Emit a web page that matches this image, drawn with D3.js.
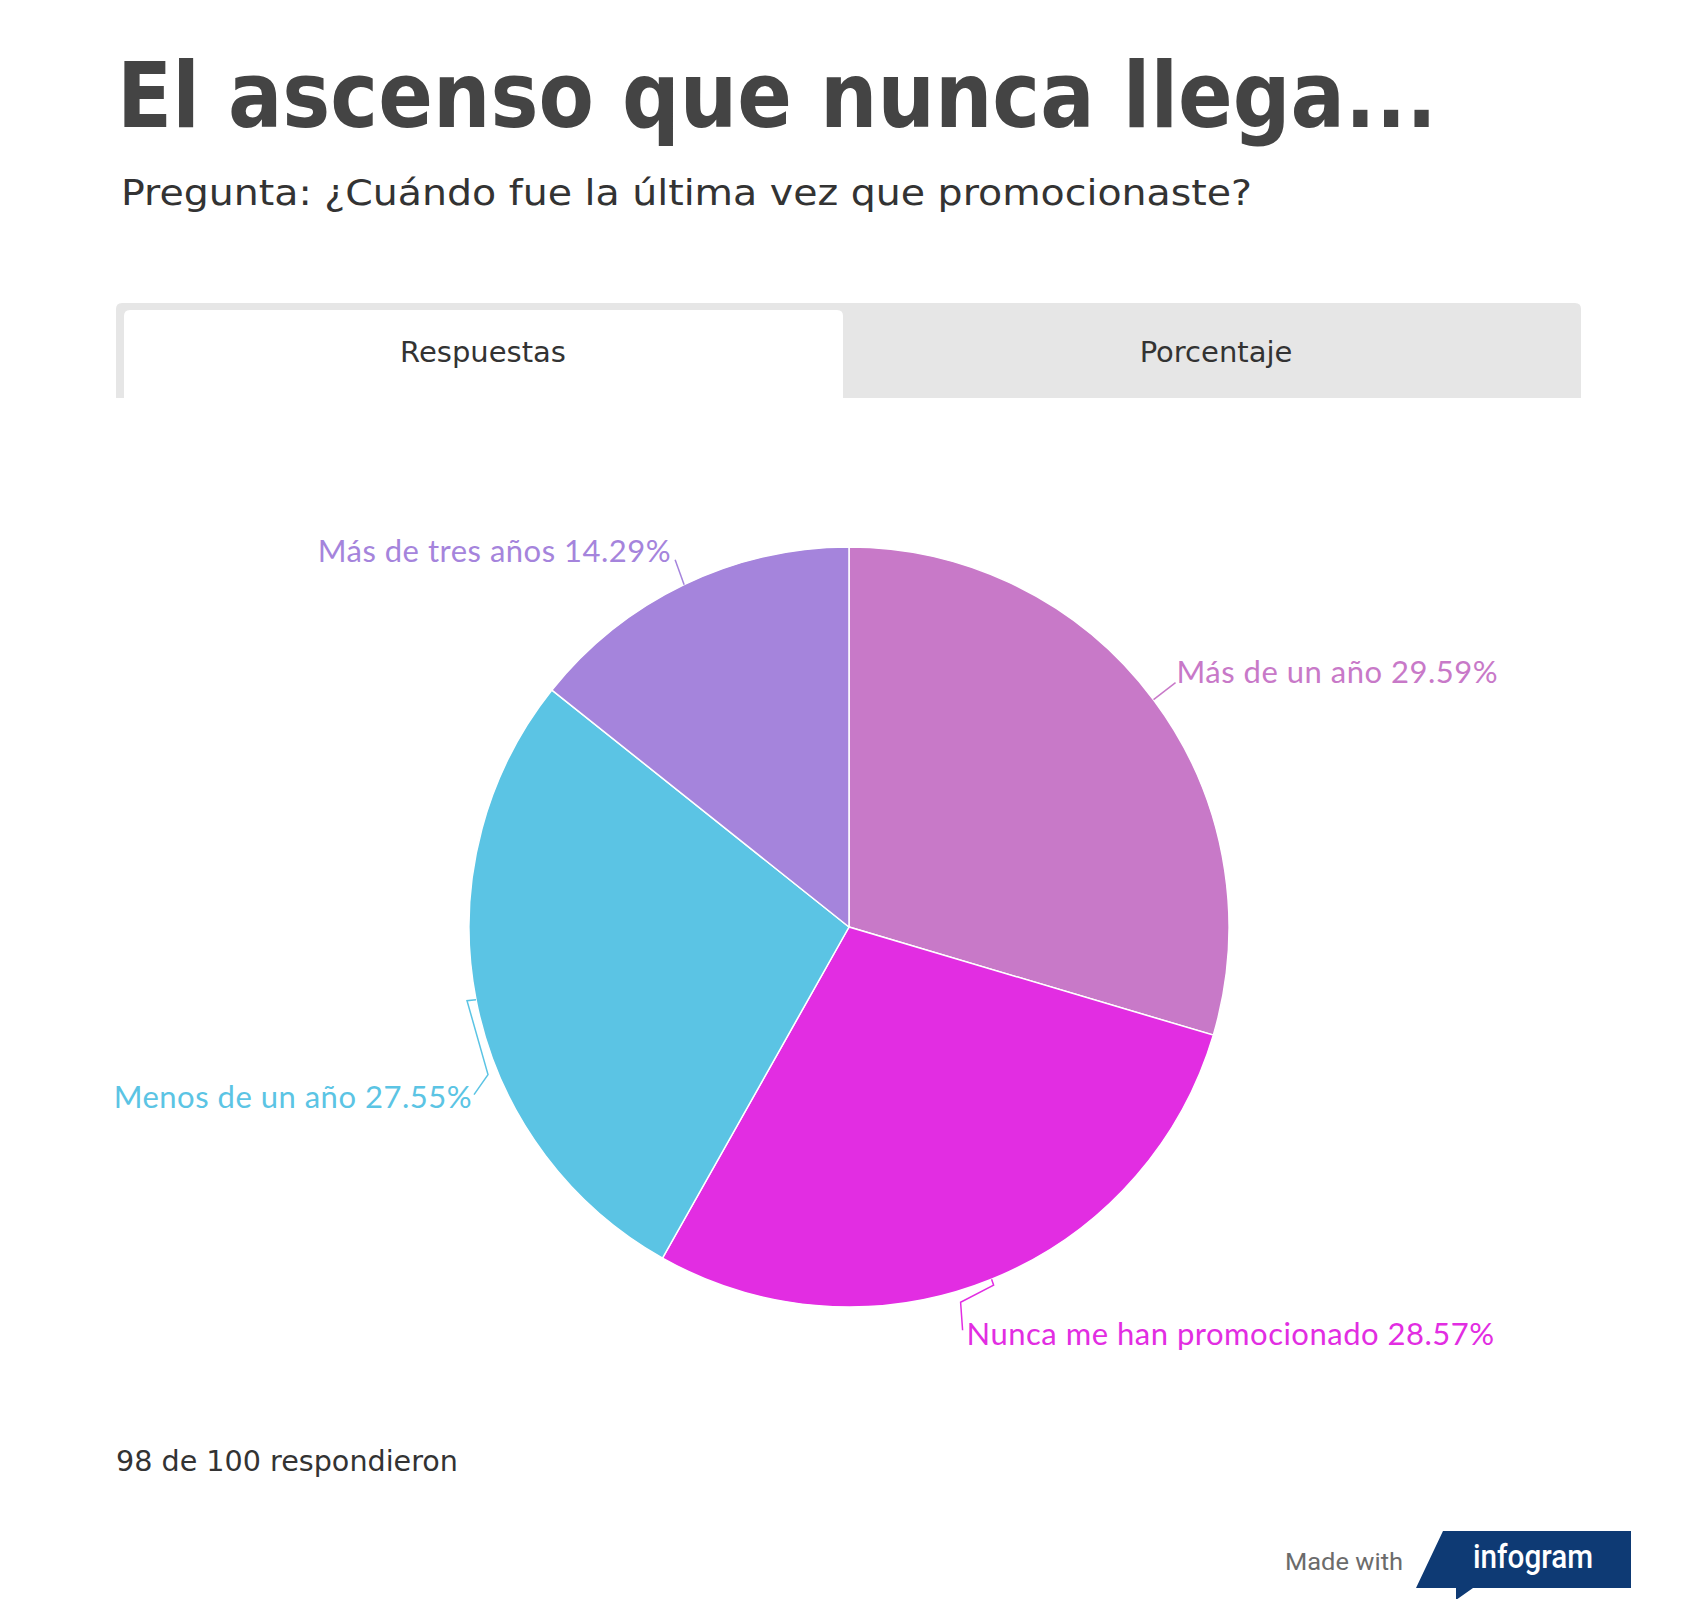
<!DOCTYPE html>
<html>
<head>
<meta charset="utf-8">
<title>El ascenso que nunca llega...</title>
<script src="https://d3js.org/d3.v7.min.js"></script>
<style>
  body { margin: 0; background: #fff; }
  .title { font-family: "DejaVu Sans", sans-serif; font-weight: bold; fill: #444; }
  .sub, .tab, .foot { font-family: "DejaVu Sans", sans-serif; fill: #333; }
  .lbl { font-family: Lato, "Noto Sans", sans-serif; letter-spacing: 0.5px; }
  .leader { fill: none; stroke-width: 1.5px; }
</style>
</head>
<body>
<svg id="chart"></svg>
<script>
// answers, clockwise from 12 o'clock
var categories = ["Más de un año", "Nunca me han promocionado", "Menos de un año", "Más de tres años"];
var counts = [29, 28, 27, 14];
var colors = ["#c879c8", "#e22de2", "#5bc4e4", "#a584dc"];
var answered = 98, asked = 100;
var tabs = ["Respuestas", "Porcentaje"];

// label layout: leader bends relative to slice edge point, text offset
var leaderBends = [
  [[22, -17]],
  [[2, 6], [-31, 23], [-29, 51]],
  [[-9, 1], [12, 75], [-2, 95]],
  [[-9, -25]]
];
var textOff = [[23, -17, "start"], [-25, 66, "start"], [-4, 108, "end"], [-13, -23, "end"]];

var W = 1700, H = 1599;
var svg = d3.select("#chart").attr("width", W).attr("height", H);
svg.append("rect").attr("width", W).attr("height", H).attr("fill", "#fff");

// titles
svg.append("text").attr("class", "title").attr("x", 117).attr("y", 127)
  .attr("font-size", 90).attr("textLength", 1320).attr("lengthAdjust", "spacingAndGlyphs")
  .text("El ascenso que nunca llega...");
svg.append("text").attr("class", "sub").attr("x", 121).attr("y", 205)
  .attr("font-size", 35).attr("textLength", 1131).attr("lengthAdjust", "spacingAndGlyphs")
  .text("Pregunta: ¿Cuándo fue la última vez que promocionaste?");

// tabs
svg.append("path").attr("fill", "#e6e6e6")
  .attr("d", "M116,398 V309 Q116,303 122,303 H1575 Q1581,303 1581,309 V398 Z");
svg.append("path").attr("fill", "#fff")
  .attr("d", "M124,398 V316 Q124,310 130,310 H837 Q843,310 843,316 V398 Z");
var tabX = d3.scalePoint().domain(tabs).range([483, 1216]);
svg.selectAll(".tab").data(tabs).enter().append("text").attr("class", "tab")
  .attr("x", function(d) { return tabX(d); }).attr("y", 362)
  .attr("text-anchor", "middle").attr("font-size", 29)
  .text(function(d) { return d; });

// pie
var cx = 849, cy = 927, R = 380;
var pie = d3.pie().sort(null).value(function(d) { return d; });
var arc = d3.arc().innerRadius(0).outerRadius(R);
var arcs = pie(counts);
var g = svg.append("g").attr("transform", "translate(" + cx + "," + cy + ")");
g.selectAll("path.slice").data(arcs).enter().append("path").attr("class", "slice")
  .attr("d", arc)
  .attr("fill", function(d, i) { return colors[i]; })
  .attr("stroke", "#fff").attr("stroke-width", 1.5);

// labels
arcs.forEach(function(d, i) {
  var a = (d.startAngle + d.endAngle) / 2;
  var ex = R * Math.sin(a), ey = -R * Math.cos(a);
  var pts = [[ex, ey]].concat(leaderBends[i].map(function(p) { return [ex + p[0], ey + p[1]]; }));
  g.append("path").attr("class", "leader").attr("stroke", colors[i])
    .attr("d", d3.line()(pts));
  var pct = (counts[i] / answered * 100).toFixed(2);
  g.append("text").attr("class", "lbl")
    .attr("x", ex + textOff[i][0]).attr("y", ey + textOff[i][1])
    .attr("text-anchor", textOff[i][2])
    .attr("font-size", 31).attr("fill", colors[i])
    .text(categories[i] + " " + pct + "%");
});

// footer
svg.append("text").attr("class", "foot").attr("x", 116).attr("y", 1471)
  .attr("font-size", 28).attr("textLength", 342).attr("lengthAdjust", "spacingAndGlyphs")
  .text(answered + " de " + asked + " respondieron");

// infogram badge
svg.append("text").attr("x", 1285).attr("y", 1570)
  .attr("font-family", "Roboto, sans-serif").attr("font-size", 24).attr("fill", "#6b6b6b")
  .attr("textLength", 118).attr("lengthAdjust", "spacingAndGlyphs")
  .text("Made with");
svg.append("path").attr("fill", "#0e3a74")
  .attr("d", "M1416,1588 L1443,1531 H1631 V1588 H1473 L1456,1600 V1588 Z");
svg.append("text").attr("x", 1473).attr("y", 1568)
  .attr("font-family", "Roboto, sans-serif").attr("font-weight", 500)
  .attr("font-size", 34).attr("fill", "#fff")
  .attr("textLength", 120).attr("lengthAdjust", "spacingAndGlyphs")
  .text("infogram");
</script>
</body>
</html>
